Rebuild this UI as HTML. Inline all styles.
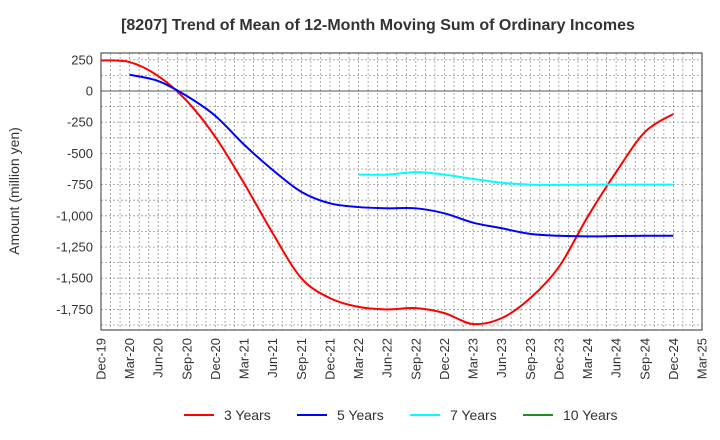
<!DOCTYPE html>
<html><head><meta charset="utf-8"><style>
body{margin:0;background:#fff;}
svg{display:block;font-family:"Liberation Sans",Arial,sans-serif;}
</style></head><body>
<svg id="chart" width="720" height="440" viewBox="0 0 720 440">
<text x="378" y="30" text-anchor="middle" font-size="16" font-weight="bold" fill="#333">[8207]  Trend of Mean of 12-Month Moving Sum of Ordinary Incomes</text>
<text transform="translate(19,191) rotate(-90)" text-anchor="middle" font-size="14" fill="#333">Amount (million yen)</text>
<g id="grid"></g><g id="axes"></g><g id="series"></g><g id="legend"></g>
</svg>
<script>
const xLabels=["Dec-19","Mar-20","Jun-20","Sep-20","Dec-20","Mar-21","Jun-21","Sep-21","Dec-21","Mar-22","Jun-22","Sep-22","Dec-22","Mar-23","Jun-23","Sep-23","Dec-23","Mar-24","Jun-24","Sep-24","Dec-24","Mar-25"];
const yTicks=[250,0,-250,-500,-750,-1000,-1250,-1500,-1750];
const yTickLabels=["250","0","-250","-500","-750","-1,000","-1,250","-1,500","-1,750"];
const seriesNames=["3 Years","5 Years","7 Years","10 Years"];
const seriesColors=["#ff0000","#0000ff","#00ffff","#228b22"];
const s3=[245,232,120,-80,-370,-740,-1140,-1500,-1660,-1730,-1750,-1740,-1780,-1867,-1820,-1660,-1410,-1010,-650,-330,-184];
const s5=[null,130,80,-40,-200,-430,-633,-808,-900,-930,-940,-940,-980,-1055,-1100,-1145,-1160,-1165,-1162,-1160,-1160];
const s7=[null,null,null,null,null,null,null,null,null,-670,-670,-650,-670,-705,-735,-750,-752,-750,-750,-750,-750];
const s10=[];
const NS="http://www.w3.org/2000/svg";
const L=101,R=702,T=53,B=330;
const x=i=>L+i*3*(R-L)/63;
const y=v=>91-v*31.2/250;
function mk(tag,attrs,parent){const e=document.createElementNS(NS,tag);for(const k in attrs)e.setAttribute(k,attrs[k]);parent.appendChild(e);return e;}
const grid=document.getElementById('grid'),axes=document.getElementById('axes'),ser=document.getElementById('series'),leg=document.getElementById('legend');
mk('rect',{x:L,y:T,width:R-L,height:B-T,fill:'#fff'},grid);
for(let m=1;m<63;m++){const gx=L+m*(R-L)/63;const l=mk('line',{x1:gx,y1:T,x2:gx,y2:B,stroke:'#999','stroke-dasharray':'2,2','stroke-width':0.8},grid);

}
for(let v=375;v>-2000;v-=125){const gy=y(v);if(gy<T||gy>B)continue;const l=mk('line',{x1:L,y1:gy,x2:R,y2:gy,stroke:v===0?'#555':'#999','stroke-dasharray':v===0?'':'2,2','stroke-width':v===0?1:0.8},grid);

}
const fr=mk('rect',{x:L,y:T,width:R-L,height:B-T,fill:'none',stroke:'#333','stroke-width':1},axes);


yTicks.forEach((v,i)=>{const t=mk('text',{x:L-8,y:y(v)+4.5,'text-anchor':'end','font-size':13,fill:'#333'},axes);t.textContent=yTickLabels[i];

});
xLabels.forEach((s,i)=>{const t=mk('text',{transform:`translate(${x(i)+4.5},${B+8}) rotate(-90)`,'text-anchor':'end','font-size':13,fill:'#333'},axes);t.textContent=s;

});
function path(pts){if(pts.length<2)return '';let d=`M${pts[0][0]},${pts[0][1]}`;for(let i=0;i<pts.length-1;i++){const p0=pts[Math.max(0,i-1)],p1=pts[i],p2=pts[i+1],p3=pts[Math.min(pts.length-1,i+2)];
const c1=[p1[0]+(p2[0]-p0[0])/6,p1[1]+(p2[1]-p0[1])/6],c2=[p2[0]-(p3[0]-p1[0])/6,p2[1]-(p3[1]-p1[1])/6];d+=` C${c1[0]},${c1[1]} ${c2[0]},${c2[1]} ${p2[0]},${p2[1]}`;}return d;}
[s3,s5,s7,s10].forEach((s,k)=>{const pts=[];s.forEach((v,i)=>{if(v!==null&&v!==undefined)pts.push([x(i),y(v)]);});
if(pts.length<2)return;const p=mk('path',{d:path(pts),fill:'none',stroke:seriesColors[k],'stroke-width':2},ser);

});
seriesNames.forEach((n,k)=>{const lx=184+k*113;const g=mk('g',{},leg);


mk('line',{x1:lx,y1:415,x2:lx+30,y2:415,stroke:seriesColors[k],'stroke-width':2},g);
const t=mk('text',{x:lx+40,y:420,'font-size':14,fill:'#333'},g);t.textContent=n;});
</script>
</body></html>
